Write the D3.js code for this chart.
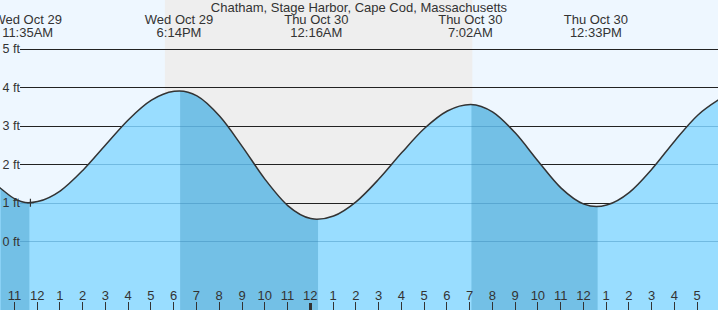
<!DOCTYPE html>
<html><head><meta charset="utf-8">
<script src="https://cdn.jsdelivr.net/npm/d3@7"></script>
<style>body{margin:0;background:#fff}svg{display:block}text{font-family:"Liberation Sans",Arial,sans-serif;fill:#333}</style>
</head><body><svg id="c" width="718" height="310"></svg>
<script>
// Time in hours since Wed Oct 29 00:00 (local)
const title = "Chatham, Stage Harbor, Cape Cod, Massachusetts";
// Tide readings (hour, height ft)
const tideTimes   = [10, 10.38, 11, 11.58, 12, 13, 14, 15, 16, 17, 18, 18.23, 19, 20, 21, 22, 23, 24, 24.27, 25, 26, 27, 28, 29, 30, 31.03, 32, 33, 34, 35, 36, 36.55, 37, 38, 39, 40, 41, 42];
const tideHeights = [1.55, 1.37, 1.1, 1.0, 1.03, 1.31, 1.85, 2.51, 3.16, 3.66, 3.89, 3.9, 3.77, 3.24, 2.45, 1.6, 0.92, 0.59, 0.57, 0.655, 1.03, 1.62, 2.3, 2.93, 3.38, 3.55, 3.35, 2.8, 2.07, 1.38, 0.965, 0.9, 0.94, 1.27, 1.88, 2.61, 3.27, 3.7];
// Extremes (high / low) with labels
const eventTimes  = [11.583, 18.233, 24.267, 31.033, 36.55];
const eventTypes  = ["L", "H", "L", "H", "L"];
const eventDays   = ["Wed Oct 29", "Wed Oct 29", "Thu Oct 30", "Thu Oct 30", "Thu Oct 30"];
const eventClock  = ["11:35AM", "6:14PM", "12:16AM", "7:02AM", "12:33PM"];
// Falling tide periods (previous high is off-chart)
const fallStarts  = [5.3, 18.233, 31.033];
const fallEnds    = [11.583, 24.267, 36.55];
// Night (sunset -> sunrise)
const nightStart  = 17.59, nightEnd = 31.1;
// Axis ticks
const ftTicks     = [0, 1, 2, 3, 4, 5];
const hourTicks   = d3.range(11, 42);
const nowTime = 11.66, nowHeight = 1.0;

const W = 718, H = 310;
const x = d3.scaleLinear().domain([11, 36]).range([14.9, 583.9]);
const y = d3.scaleLinear().domain([0, 5]).range([241.3, 48.5]);
const svg = d3.select("#c");
const t0 = x.invert(0), t1 = x.invert(W);

// backgrounds
svg.append("rect").attr("x", 0).attr("y", 0).attr("width", W).attr("height", H).attr("fill", "#eef7ff");
svg.append("rect").attr("x", x(nightStart)).attr("y", 0).attr("width", x(nightEnd) - x(nightStart)).attr("height", H).attr("fill", "#eeeeee");

// grid lines (dark, behind water)
svg.append("g").selectAll("line").data(ftTicks).join("line")
  .attr("x1", 20).attr("x2", W).attr("y1", d => Math.round(y(d)) + 0.5).attr("y2", d => Math.round(y(d)) + 0.5)
  .attr("stroke", "#222").attr("stroke-width", 1);

const pts = tideTimes.map((t, i) => [t, tideHeights[i]]);
const area = d3.area().x(d => x(d[0])).y0(H).y1(d => y(d[1])).curve(d3.curveMonotoneX);
const line = d3.line().x(d => x(d[0])).y(d => y(d[1])).curve(d3.curveMonotoneX);

svg.append("clipPath").attr("id", "water").append("path").attr("d", area(pts));
svg.append("path").attr("d", area(pts)).attr("fill", "#99ddff");
const wg = svg.append("g").attr("clip-path", "url(#water)");
wg.selectAll("rect").data(fallStarts).join("rect")
  .attr("x", (d, i) => x(Math.max(d, t0)) + 0.6).attr("y", 0)
  .attr("width", (d, i) => x(fallEnds[i]) - x(Math.max(d, t0)) + 0.6).attr("height", H)
  .attr("fill", "#73c0e6");
wg.append("g").selectAll("line").data(ftTicks).join("line")
  .attr("x1", 20).attr("x2", W).attr("y1", d => Math.round(y(d)) + 0.5).attr("y2", d => Math.round(y(d)) + 0.5)
  .attr("stroke", "rgba(40,120,170,0.35)").attr("stroke-width", 1);

svg.append("path").attr("d", line(pts)).attr("fill", "none").attr("stroke", "#333").attr("stroke-width", 1.5);

// now marker
svg.append("path").attr("d", `M${x(nowTime) - 3},${y(nowHeight)}h7M${x(nowTime) + 0.5},${y(nowHeight) - 4}v8`)
  .attr("stroke", "#333").attr("stroke-width", 1.2).attr("fill", "none");

// ft labels
svg.append("g").selectAll("text").data(ftTicks).join("text")
  .attr("x", 2.5).attr("y", d => y(d) + 4.5).attr("font-size", 12.5).text(d => d + " ft");

// title
svg.append("text").attr("x", 359).attr("y", 12).attr("text-anchor", "middle").attr("font-size", 13).text(title);
// event labels
const ev = svg.append("g").selectAll("g").data(eventTimes).join("g");
ev.append("text").attr("x", d => x(d) - 0.5).attr("y", 24).attr("text-anchor", "middle").attr("font-size", 13).text((d, i) => eventDays[i]);
ev.append("text").attr("x", d => x(d) - 0.5).attr("y", 36.5).attr("text-anchor", "middle").attr("font-size", 13).text((d, i) => eventClock[i]);

// hour axis
const hour12 = h => { const m = h % 12; return m === 0 ? 12 : m; };
const hg = svg.append("g").selectAll("g").data(hourTicks.filter(h => x(h) >= 0 && x(h) <= W)).join("g");
hg.append("line").attr("x1", d => Math.round(x(d)) - 0.5).attr("x2", d => Math.round(x(d)) - 0.5)
  .attr("y1", d => d % 24 === 0 ? 303 : 302).attr("y2", H)
  .attr("stroke", "#333").attr("stroke-width", d => d % 24 === 0 ? 3 : 1);
hg.append("text").attr("x", d => x(d) - 0.5).attr("y", 300).attr("text-anchor", "middle").attr("font-size", 13).text(d => hour12(d));
</script></body></html>
